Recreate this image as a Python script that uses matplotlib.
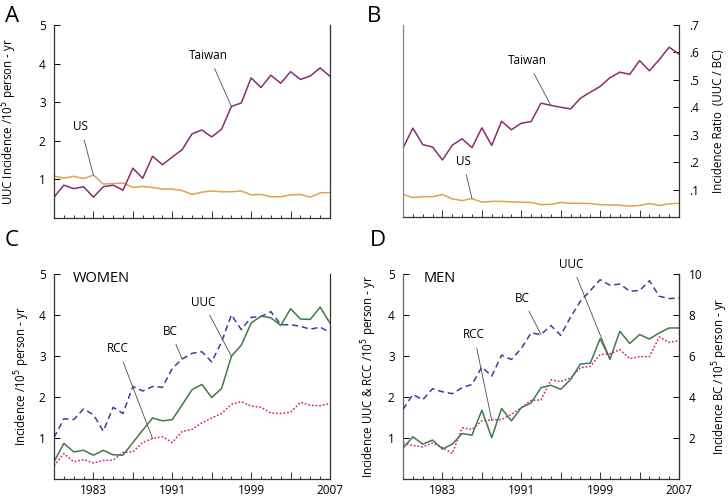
import matplotlib
matplotlib.use("Agg")
import matplotlib.pyplot as plt
from matplotlib.ticker import FixedLocator, FuncFormatter

plt.rcParams['font.family'] = ['Open Sans', 'DejaVu Sans']

years = list(range(1979, 2008))

# panel A: UUC incidence per 10^5 person-yr
taiwan_uuc = [0.54, 0.85, 0.76, 0.81, 0.54, 0.81, 0.85, 0.72, 1.29, 1.03,
              1.60, 1.38, 1.58, 1.77, 2.18, 2.28, 2.10, 2.30, 2.89, 2.98,
              3.63, 3.38, 3.70, 3.49, 3.79, 3.59, 3.68, 3.89, 3.67]
us_uuc = [1.09, 1.03, 1.08, 1.02, 1.11, 0.88, 0.89, 0.91, 0.79, 0.82,
          0.79, 0.75, 0.75, 0.71, 0.61, 0.67, 0.70, 0.68, 0.68, 0.70,
          0.60, 0.61, 0.55, 0.55, 0.60, 0.61, 0.54, 0.65, 0.66]

# panel B: incidence ratio UUC / BC
taiwan_ratio = [0.251, 0.324, 0.264, 0.255, 0.208, 0.262, 0.285, 0.253, 0.325, 0.261,
                0.349, 0.318, 0.342, 0.348, 0.415, 0.407, 0.400, 0.394, 0.433, 0.455,
                0.476, 0.508, 0.528, 0.520, 0.570, 0.533, 0.574, 0.619, 0.594]
us_ratio = [0.082, 0.071, 0.074, 0.074, 0.082, 0.066, 0.060, 0.067, 0.054, 0.057,
            0.057, 0.055, 0.054, 0.053, 0.045, 0.046, 0.053, 0.050, 0.050, 0.049,
            0.045, 0.044, 0.043, 0.040, 0.042, 0.049, 0.042, 0.048, 0.050]

# panel C: women
women_uuc = [0.41, 0.86, 0.65, 0.69, 0.57, 0.69, 0.58, 0.57, 0.88, 1.18,
             1.48, 1.41, 1.44, 1.80, 2.17, 2.30, 1.98, 2.20, 2.99, 3.26,
             3.80, 3.97, 3.93, 3.74, 4.15, 3.90, 3.89, 4.19, 3.80]
women_bc = [1.00, 1.46, 1.44, 1.70, 1.56, 1.16, 1.74, 1.59, 2.25, 2.14,
            2.25, 2.23, 2.69, 2.92, 3.06, 3.10, 2.85, 3.34, 4.00, 3.64,
            3.94, 3.96, 4.08, 3.76, 3.76, 3.72, 3.65, 3.70, 3.57]
women_rcc = [0.31, 0.61, 0.41, 0.46, 0.38, 0.44, 0.45, 0.64, 0.65, 0.88,
             0.98, 1.02, 0.88, 1.15, 1.20, 1.36, 1.48, 1.59, 1.81, 1.88,
             1.77, 1.74, 1.60, 1.59, 1.62, 1.86, 1.79, 1.78, 1.83]

# panel D: men (BC on the right axis)
men_uuc = [0.74, 1.02, 0.84, 0.94, 0.72, 0.84, 1.10, 1.06, 1.67, 1.00,
           1.71, 1.41, 1.73, 1.85, 2.22, 2.28, 2.18, 2.42, 2.80, 2.82,
           3.42, 2.92, 3.60, 3.30, 3.52, 3.41, 3.56, 3.68, 3.68]
men_rcc = [0.86, 0.81, 0.77, 0.87, 0.76, 0.61, 1.24, 1.20, 1.41, 1.43,
           1.44, 1.57, 1.73, 1.91, 1.92, 2.41, 2.37, 2.46, 2.71, 2.74,
           3.03, 3.05, 3.15, 2.93, 2.98, 2.98, 3.46, 3.33, 3.37]
men_bc = [3.38, 4.11, 3.85, 4.39, 4.24, 4.15, 4.44, 4.60, 5.45, 5.01,
          6.03, 5.82, 6.36, 7.12, 7.04, 7.48, 7.00, 7.89, 8.67, 9.19,
          9.72, 9.45, 9.51, 9.16, 9.19, 9.67, 8.91, 8.80, 8.83]

major_years = [1983, 1987, 1991, 1995, 1999, 2003, 2007]
year_labels = ['1983', '', '1991', '', '1999', '', '2007']

c_taiwan = '#8a2c72'
c_us = '#e4a14f'
c_uuc = '#3f7a47'
c_bc = '#3c3ea0'
c_rcc = '#d6288a'
c_spine = '#333333'
lw = 1.1
lab_size = 8.3
tick_size = 8.5

fig = plt.figure(figsize=(7.28, 4.99), dpi=100)
W, H = 728, 499


def make_ax(x0, x1, ytop, ybot):
    return fig.add_axes([x0 / W, 1 - ybot / H, (x1 - x0) / W, (ybot - ytop) / H])


def style_x(ax, labels):
    ax.set_xlim(1979, 2007)
    ax.xaxis.set_major_locator(FixedLocator(major_years))
    ax.xaxis.set_minor_locator(FixedLocator(years))
    ax.tick_params(axis='x', which='major', direction='in', length=5, width=0.7,
                   color=c_spine, labelsize=tick_size, pad=4)
    ax.tick_params(axis='x', which='minor', direction='in', length=2.5, width=0.7,
                   color=c_spine)
    if labels:
        ax.set_xticklabels(year_labels)
    else:
        ax.set_xticklabels([])
    ax.spines['top'].set_visible(False)
    for s in ['left', 'right', 'bottom']:
        ax.spines[s].set_color(c_spine)
        ax.spines[s].set_linewidth(0.9)


def note(ax, text, xy, xytext, size=8.5):
    ax.annotate(text, xy=xy, xytext=xytext, ha='center', va='center', fontsize=size,
                arrowprops=dict(arrowstyle='-', color='0.3', lw=0.6,
                                shrinkA=3, shrinkB=0))


# ---------- A ----------
axA = make_ax(54, 330, 25, 218)
axA.plot(years, us_uuc, color=c_us, lw=lw)
axA.plot(years, taiwan_uuc, color=c_taiwan, lw=lw)
style_x(axA, False)
axA.set_ylim(0, 5)
axA.set_yticks([1, 2, 3, 4, 5])
axA.tick_params(axis='y', direction='in', length=4, width=0.7, labelsize=tick_size, pad=6)
axA.set_ylabel('UUC Incidence /10$^5$ person - yr', fontsize=lab_size)
axA.yaxis.set_label_coords(-0.125, 0.5)
note(axA, 'Taiwan', (years[18], taiwan_uuc[18]), (1994.7, 4.21))
note(axA, 'US', (years[4], us_uuc[4]), (1981.7, 2.37))

# ---------- B ----------
axB = make_ax(403, 679, 25, 217)
axB.plot(years, us_ratio, color=c_us, lw=lw)
axB.plot(years, taiwan_ratio, color=c_taiwan, lw=lw)
style_x(axB, False)
axB.spines['left'].set_color('#888888')
axB.set_ylim(0, 0.7)
axB.yaxis.tick_right()
axB.yaxis.set_label_position('right')
axB.set_yticks([0.1, 0.2, 0.3, 0.4, 0.5, 0.6, 0.7])
axB.yaxis.set_major_formatter(FuncFormatter(lambda v, p: ('%.1f' % v)[1:]))
axB.tick_params(axis='y', direction='in', length=4, width=0.7, labelsize=tick_size, pad=7)
axB.set_ylabel('Incidence Ratio  (UUC / BC)', fontsize=lab_size)
axB.yaxis.set_label_coords(1.12, 0.5)
note(axB, 'Taiwan', (years[15], taiwan_ratio[15]), (1991.6, 0.57))
note(axB, 'US', (years[7], us_ratio[7]), (1985.1, 0.203))

# ---------- C ----------
axC = make_ax(54, 330, 274, 478.5)
axC.plot(years, women_rcc, color=c_rcc, lw=lw, ls=(0, (1.2, 1.2)))
axC.plot(years, women_bc, color=c_bc, lw=lw, ls=(0, (4, 2.5)))
axC.plot(years, women_uuc, color=c_uuc, lw=lw)
style_x(axC, True)
axC.set_ylim(0, 5)
axC.set_yticks([1, 2, 3, 4, 5])
axC.tick_params(axis='y', direction='in', length=4, width=0.7, labelsize=tick_size, pad=6)
axC.set_ylabel('Incidence /10$^5$ person - yr', fontsize=lab_size)
axC.yaxis.set_label_coords(-0.08, 0.5)
axC.text(1980.9, 4.88, 'WOMEN', fontsize=10.5, va='center', ha='left')
note(axC, 'UUC', (years[18], women_uuc[18]), (1994.1, 4.31))
note(axC, 'BC', (years[13], women_bc[13]), (1990.8, 3.6))
note(axC, 'RCC', (years[10], women_rcc[10]), (1985.5, 3.17))

# ---------- D ----------
axD = make_ax(403, 679, 274, 478.5)
axD.plot(years, men_rcc, color=c_rcc, lw=lw, ls=(0, (1.2, 1.2)))
axD.plot(years, men_uuc, color=c_uuc, lw=lw)
style_x(axD, True)
axD.spines['left'].set_color('#666666')
axD.set_ylim(0, 5)
axD.set_yticks([1, 2, 3, 4, 5])
axD.tick_params(axis='y', direction='in', length=4, width=0.7, labelsize=tick_size, pad=6)
axD.set_ylabel('Incidence UUC & RCC /10$^5$ person - yr', fontsize=lab_size)
axD.yaxis.set_label_coords(-0.087, 0.5)
axD.text(1981.1, 4.88, 'MEN', fontsize=10.5, va='center', ha='left')
axD2 = axD.twinx()
axD2.plot(years, men_bc, color=c_bc, lw=lw, ls=(0, (4, 2.5)))
axD2.set_ylim(0, 10)
axD2.set_yticks([2, 4, 6, 8, 10])
axD2.tick_params(axis='y', direction='in', length=4, width=0.7, labelsize=tick_size, pad=7)
axD2.set_ylabel('Incidence BC /10$^5$ person - yr', fontsize=lab_size)
axD2.yaxis.set_label_coords(1.112, 0.5)
for s in ['top', 'left', 'bottom']:
    axD2.spines[s].set_visible(False)
axD2.spines['right'].set_color(c_spine)
note(axD2, 'UUC', (years[21], men_uuc[21] * 2), (1996.1, 10.48))
note(axD2, 'BC', (years[14], men_bc[14]), (1991.1, 8.82))
note(axD2, 'RCC', (years[9], men_rcc[9] * 2), (1986.2, 7.02))
for t in axD2.texts:
    t.set_clip_on(False)

# panel letters
for letter, x, y in [('A', 5, 16), ('B', 367, 16), ('C', 5, 241), ('D', 370, 241)]:
    fig.text(x / W, 1 - y / H, letter, fontsize=16, va='center', ha='left')

fig.savefig('out.png', dpi=100)
